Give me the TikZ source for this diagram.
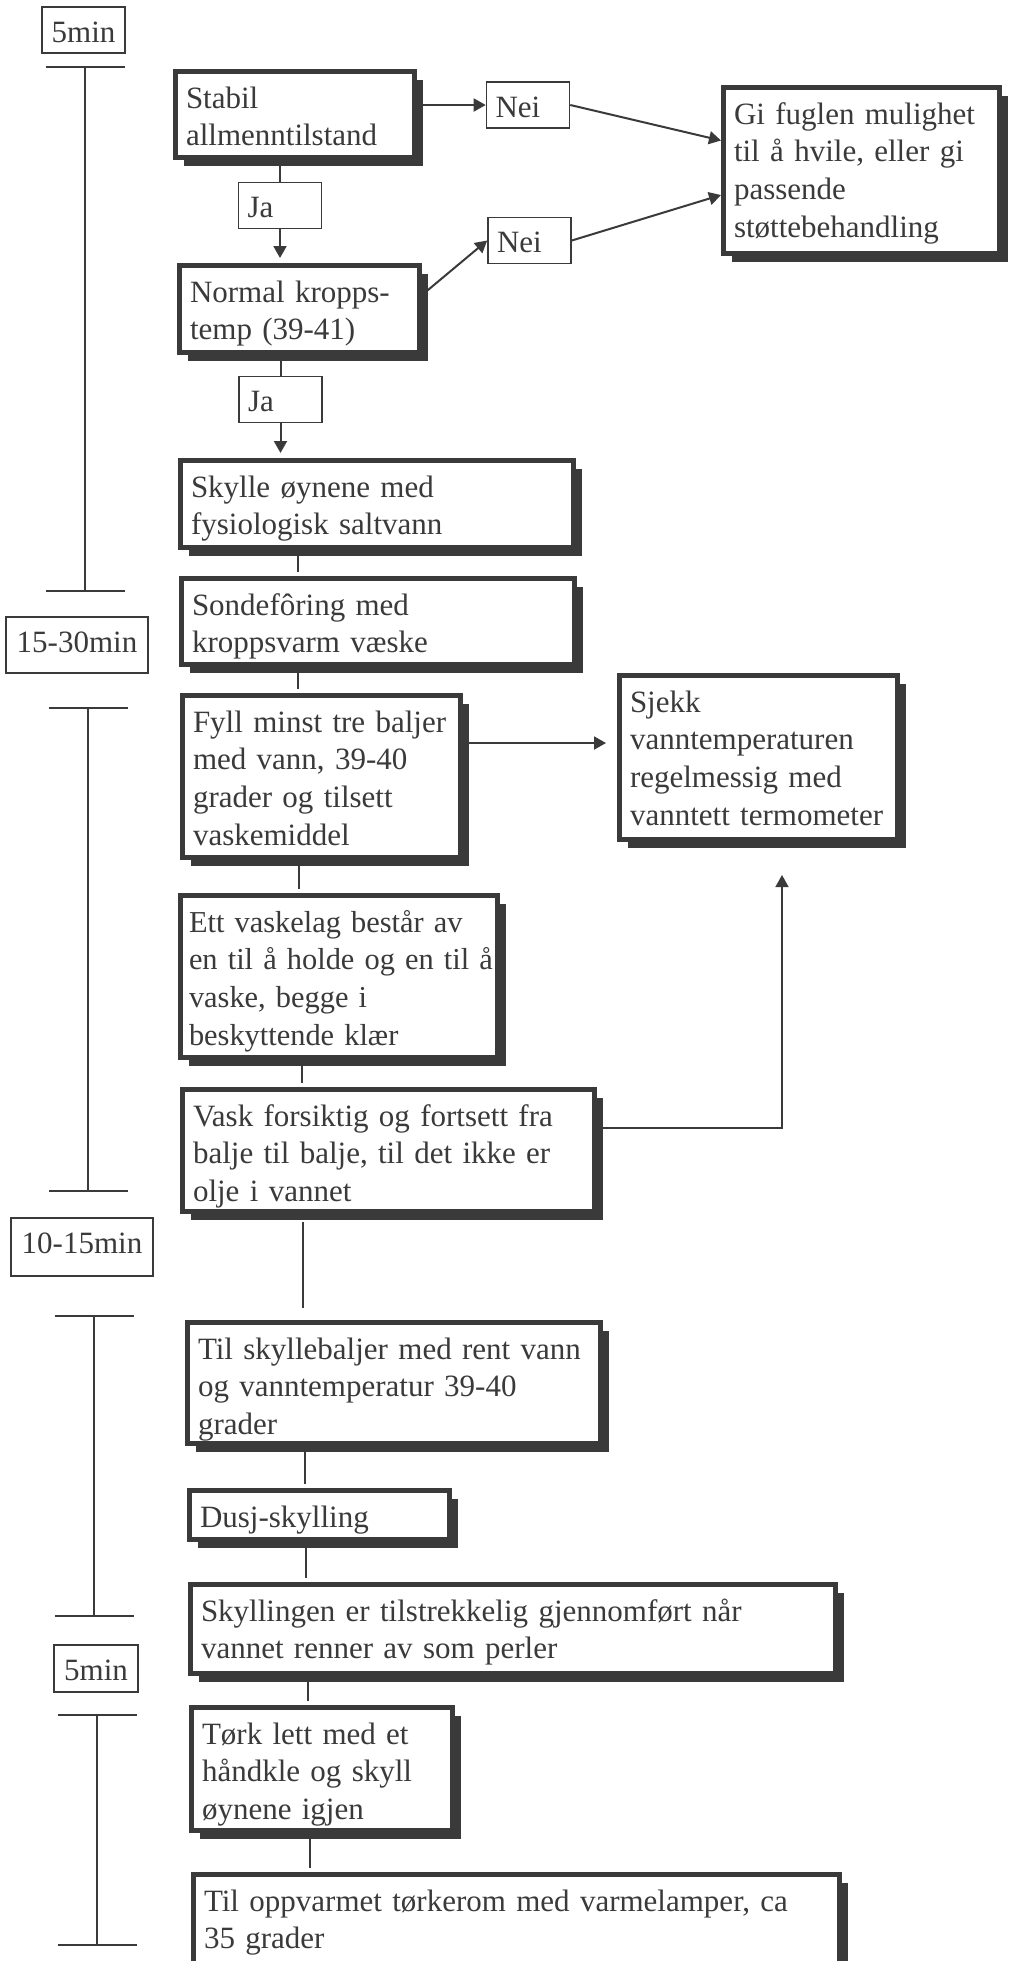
\documentclass[tikz,border=0pt]{standalone}
\usepackage{fontspec}
\setmainfont{Liberation Serif}
\usetikzlibrary{arrows.meta,shadows}
\definecolor{ink}{HTML}{3A3A3A}

\tikzstyle{stepbox} = [draw=ink, line width=2.5pt, fill=white, align=left, inner xsep=5.25pt, inner ysep=0pt, text height=18.25pt, drop shadow={shadow xshift=4pt, shadow yshift=-4pt, fill=ink, opacity=1}]
\tikzstyle{answer} = [draw=ink, line width=0.8pt, fill=white, align=left, inner xsep=4.5pt, inner ysep=0pt, text width=32.5pt, text height=17.5pt, text depth=5.5pt]
\tikzstyle{timebox} = [draw=ink, line width=0.8pt, fill=white, inner xsep=0pt, inner ysep=0pt, text height=17.5pt]
\tikzstyle{link} = [draw=ink, line width=1pt]
\tikzstyle{flow} = [link, -{Triangle[length=6pt,width=6.5pt]}]
\tikzstyle{timespan} = [draw=ink, line width=1pt, {Bar[width=39.5pt]}-{Bar[width=39.5pt]}]

\begin{document}
\begin{tikzpicture}[x=0.5pt, y=-0.5pt, text=ink, font=\fontsize{15.5pt}{18.9pt}\selectfont]
\useasboundingbox (0,0) rectangle (1010,1961);

\node[timebox, minimum width=41.5pt, text depth=5.5pt] (t1) at (83.5,30) {5min};
\node[timebox, minimum width=71pt, text depth=10.5pt] (t2) at (77,645) {15-30min};
\node[timebox, minimum width=71pt, text depth=11.5pt] (t3) at (82,1247) {10-15min};
\node[timebox, minimum width=42pt, text depth=6pt] (t4) at (96,1668.5) {5min};
\foreach \x/\ya/\yb in {85/66/592, 88/707/1192, 94/1315/1617, 97/1714/1946}
    \draw[timespan] (\x,\ya) -- (\x,\yb);

\node[stepbox, text width=109pt, text depth=24.75pt] (stabil) at (295,114.5) {Stabil\\allmenntilstand};
\node[stepbox, text width=109.5pt, text depth=25.25pt] (normal) at (299.5,309) {Normal kropps-\\temp (39-41)};
\node[stepbox, text width=127.5pt, text depth=64.75pt] (gi) at (861.5,170.5) {Gi fuglen mulighet\\til å hvile, eller gi\\passende\\støttebehandling};
\node[stepbox, text width=186pt, text depth=25.25pt] (skylle) at (377,504) {Skylle øynene med\\fysiologisk saltvann};
\node[stepbox, text width=186pt, text depth=24.75pt] (sonde) at (378,621.5) {Sondefôring med\\kroppsvarm væske};
\node[stepbox, text width=128.5pt, text depth=62.75pt] (fyll) at (321.5,776.5) {Fyll minst tre baljer\\med vann, 39-40\\grader og tilsett\\vaskemiddel};
\node[stepbox, text width=128.5pt, text depth=63.75pt] (sjekk) at (758.5,757.5) {Sjekk\\vanntemperaturen\\regelmessig med\\vanntett termometer};
\node[stepbox, inner xsep=4.25pt, text width=150pt, text depth=62.75pt, font=\fontsize{15.2pt}{18.9pt}\selectfont] (ett) at (339,976.5) {Ett vaskelag består av\\\mbox{en til å holde og en til å}\\vaske, begge i\\beskyttende klær};
\node[stepbox, text width=195.5pt, text depth=42.75pt] (vask) at (388.5,1150.5) {Vask forsiktig og fortsett fra\\balje til balje, til det ikke er\\olje i vannet};
\node[stepbox, text width=196pt, text depth=42.25pt] (tilskyll) at (394,1383) {Til skyllebaljer med rent vann\\og vanntemperatur 39-40\\grader};
\node[stepbox, text width=119.5pt, text depth=6.25pt] (dusj) at (319.5,1515) {Dusj-skylling};
\node[stepbox, text width=312pt, text depth=26.25pt] (skyllingen) at (513,1629) {Skyllingen er tilstrekkelig gjennomført når\\vannet renner av som perler};
\node[stepbox, text width=120pt, text depth=43.25pt] (tork) at (322,1769) {Tørk lett med et\\håndkle og skyll\\øynene igjen};
\node[stepbox, text width=312.5pt, text depth=33.25pt] (tilopp) at (516.5,1926) {Til oppvarmet tørkerom med varmelamper, ca\\35 grader};

\node[answer] (nei1) at (528,105) {Nei};
\node[answer] (nei2) at (529.5,240.5) {Nei};
\node[answer] (ja1) at (280,205.5) {Ja};
\node[answer] (ja2) at (280.5,399.5) {Ja};

\draw[flow] (stabil.east |- nei1.west) -- (nei1.west);
\draw[flow] ([yshift=7pt]normal.east) -- (nei2.west);
\draw[flow] (nei1.east) -- ([yshift=15pt]gi.west);
\draw[flow] (nei2.east) -- ([yshift=-12.25pt]gi.west);
\draw[link] (stabil.south -| ja1.north) -- (ja1.north);
\draw[flow, shorten >=2.5pt] (ja1.south) -- (ja1.south |- normal.north);
\draw[link] (normal.south -| ja2.north) -- (ja2.north);
\draw[flow, shorten >=2.5pt] (ja2.south) -- (ja2.south |- skylle.north);
\foreach \a/\b/\x in {skylle/sonde/298, sonde/fyll/298, fyll/ett/299, ett/vask/302, tilskyll/dusj/305, dusj/skyllingen/306, skyllingen/tork/308, tork/tilopp/310}
    \draw[link, shorten >=2pt] (\a.south -| \x,0) -- (\b.north -| \x,0);
\draw[link, shorten <=4pt, shorten >=6pt] (vask.south -| 303,0) -- (tilskyll.north -| 303,0);
\draw[flow, shorten >=5.5pt] ([yshift=16.75pt]fyll.east) -- ([yshift=16.75pt]fyll.east -| sjekk.west);
\draw[flow, line width=0.8pt] ([yshift=11.25pt]vask.east) -| ([xshift=11.75pt,yshift=-16.5pt]sjekk.south);
\end{tikzpicture}
\end{document}
